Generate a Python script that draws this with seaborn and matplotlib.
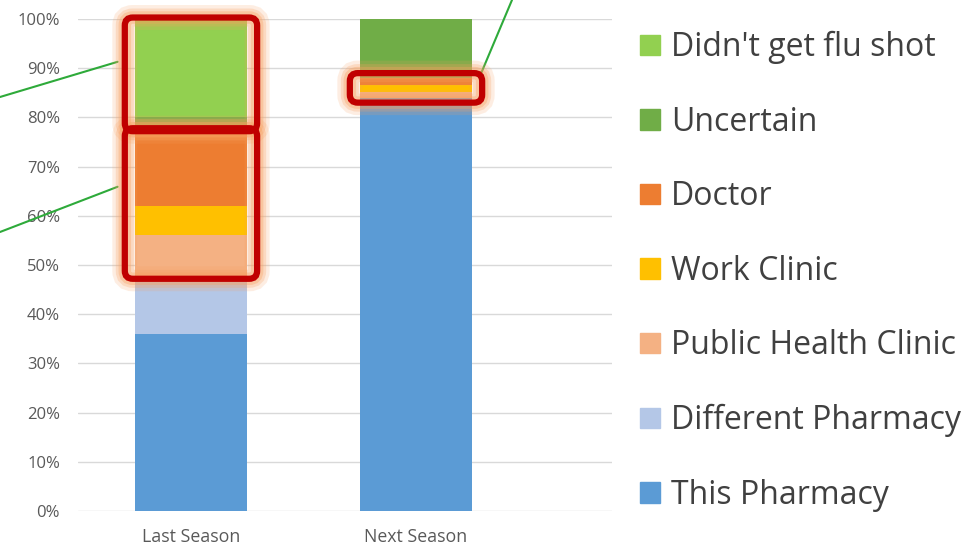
import numpy as np
import pandas as pd
import seaborn as sns
import matplotlib.pyplot as plt
import matplotlib.patches as mpatches
import matplotlib.transforms as mtransforms

# values (share of respondents, 0-1)
seasons = ["Last Season", "Next Season"]
sources = ["This Pharmacy", "Different Pharmacy", "Public Health Clinic",
           "Work Clinic", "Doctor", "Uncertain", "Didn't get flu shot"]
this_pharmacy = [0.36, 0.84]
different_pharmacy = [0.115, 0.0]
public_health_clinic = [0.085, 0.012]
work_clinic = [0.06, 0.014]
doctor = [0.155, 0.014]
uncertain = [0.025, 0.12]
no_flu_shot = [0.20, 0.0]
colors = ["#5B9BD5", "#B4C7E7", "#F4B183", "#FFC000", "#ED7D31", "#70AD47", "#92D050"]
y_ticks = np.arange(0, 1.01, 0.1)

df = pd.DataFrame({
    "season": seasons,
    "This Pharmacy": this_pharmacy,
    "Different Pharmacy": different_pharmacy,
    "Public Health Clinic": public_health_clinic,
    "Work Clinic": work_clinic,
    "Doctor": doctor,
    "Uncertain": uncertain,
    "Didn't get flu shot": no_flu_shot,
})
cum = df[sources].cumsum(axis=1)

sns.set_style("white")
plt.rcParams["font.family"] = ["Open Sans", "DejaVu Sans"]

W, H = 967, 546
fig = plt.figure(figsize=(W / 100, H / 100), dpi=100)
ax = fig.add_axes([78 / W, 1 - 511 / H, (612 - 78) / W, (511 - 19) / H])

# stacked bars: draw cumulative totals from the top layer down
for src, col in reversed(list(zip(sources, colors))):
    sns.barplot(x=df["season"], y=cum[src], color=col, width=0.5,
                linewidth=0, saturation=1, ax=ax, zorder=3)

ax.set_xlim(-0.502, 1.871)
ax.set_ylim(0, 1)
ax.set_yticks(y_ticks)
ax.set_yticklabels([f"{int(round(t * 100))}%" for t in y_ticks])
ax.yaxis.grid(True, color="#D9D9D9", lw=1, zorder=0)
ax.set_axisbelow(True)
for s in ax.spines.values():
    s.set_visible(False)
ax.tick_params(axis="both", length=0, labelcolor="#595959")
ax.tick_params(axis="y", labelsize=12, pad=13)
ax.tick_params(axis="x", labelsize=12.8, pad=12)
ax.set_xlabel("")
ax.set_ylabel("")

# legend
handles = [mpatches.Patch(color=c, label=s) for s, c in zip(sources, colors)][::-1]
fig.legend(handles=handles, loc="upper left", bbox_to_anchor=(640 / W, 1 - 31 / H),
           frameon=False, fontsize=23, handlelength=0.62, handleheight=0.62,
           handletextpad=0.35, labelspacing=1.30, borderpad=0, borderaxespad=0,
           labelcolor="#404040")

# highlight boxes around stacked segments (computed from the data)
ident = mtransforms.IdentityTransform()


def highlight(i, lo, hi, padx=0.044, pady=0.003):
    x0, y0 = ax.transData.transform((i - 0.25 - padx, lo - pady))
    x1, y1 = ax.transData.transform((i + 0.25 + padx, hi + pady))
    for lw, a in [(18, 0.18), (13, 0.25), (9, 0.35)]:
        fig.add_artist(mpatches.FancyBboxPatch(
            (x0, y0), x1 - x0, y1 - y0, boxstyle="round,pad=0,rounding_size=8",
            fill=False, ec="#F8A060", lw=lw, alpha=a, transform=ident, zorder=5))
    fig.add_artist(mpatches.FancyBboxPatch(
        (x0, y0), x1 - x0, y1 - y0, boxstyle="round,pad=0,rounding_size=8",
        fill=False, ec="#C00000", lw=4.5, transform=ident, zorder=6))


highlight(0, cum["Doctor"][0], cum["Didn't get flu shot"][0])
highlight(0, cum["Different Pharmacy"][0], cum["Doctor"][0])
highlight(1, cum["Different Pharmacy"][1], cum["Doctor"][1], pady=0.01)

# callout leader lines (their labels sit outside the picture)
line_kw = dict(arrowstyle="-", color="#2EAA3A", lw=1.5, shrinkA=0, shrinkB=0)
ax.annotate("", xy=(-0.326, 0.913), xytext=(0, 1 - 97 / H),
            textcoords="figure fraction", arrowprops=line_kw, annotation_clip=False)
ax.annotate("", xy=(-0.326, 0.659), xytext=(0, 1 - 232 / H),
            textcoords="figure fraction", arrowprops=line_kw, annotation_clip=False)
ax.annotate("", xy=(1.286, 0.886), xytext=(512 / W, 1.0),
            textcoords="figure fraction", arrowprops=line_kw, annotation_clip=False)

fig.savefig("out.png", dpi=100)
